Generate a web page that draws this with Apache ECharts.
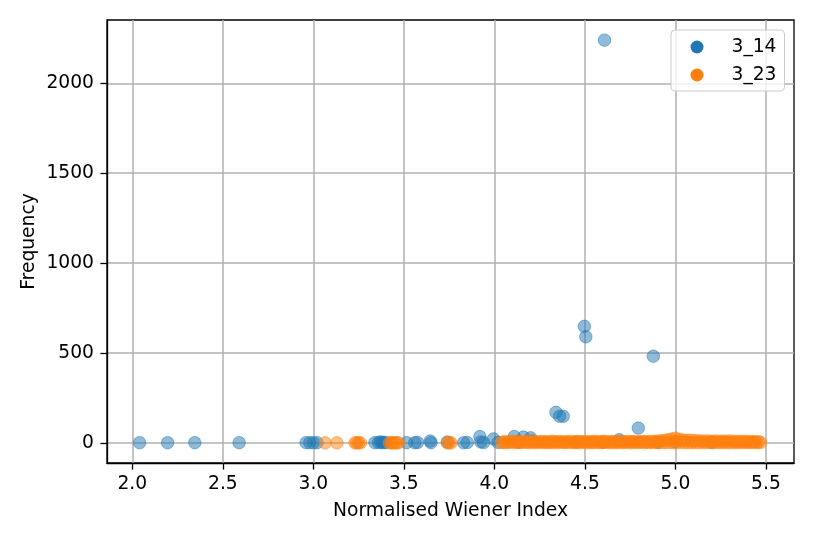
<!DOCTYPE html>
<html><head><meta charset="utf-8">
<script src="https://cdn.jsdelivr.net/npm/echarts@6/dist/echarts.min.js"></script>
<style>html,body{margin:0;padding:0;background:#fff}#c{width:814px;height:543px}</style>
</head><body><div id="c"></div>
<script>
const seriesNames = ["3_14", "3_23"];
const xTicks = [2.0, 2.5, 3.0, 3.5, 4.0, 4.5, 5.0, 5.5];
const yTicks = [0, 500, 1000, 1500, 2000];

const blue314 = [
  [2.04,1],[2.195,1],[2.345,1],[2.59,1],
  [2.96,1],[2.98,1],[3.00,1],[3.02,1],
  [3.34,1],[3.36,2],[3.37,5],[3.38,1],[3.39,3],[3.40,1],
  [3.515,1],[3.56,1],[3.575,2],[3.645,10],[3.65,1],
  [3.74,5],[3.83,1],[3.85,2],[3.92,35],[3.925,5],[3.94,2],[3.995,22],[4.02,3],
  [4.11,35],[4.13,5],[4.16,32],[4.20,28],[4.21,10],
  [4.34,170],[4.36,148],[4.38,148],
  [4.497,648],[4.505,590],[4.608,2240],
  [4.69,18],[4.795,82],[4.878,482],
  [4.45,5],[4.6,4],[4.9,3],[5.0,6],[5.2,3]
];

const orange323 = [
  [3.065,0],[3.13,0],[3.23,0],[3.24,0],[3.25,0],[3.26,0],
  [3.42,0],[3.43,0],[3.44,0],[3.45,0],[3.46,0],[3.47,0],
  [3.74,0],[3.75,0],[3.76,0],[4.04,2],
  [4.05,2],[4.06,8],[4.07,1],[4.08,6],[4.09,3],[4.10,9],[4.11,1],[4.12,7],[4.13,2],[4.14,5],
  [4.15,1],[4.16,8],[4.17,3],[4.18,6],[4.19,1],[4.20,9],[4.21,2],[4.22,7],[4.23,1],[4.24,6],
  [4.25,3],[4.26,8],[4.27,1],[4.28,7],[4.29,2],[4.30,6],[4.31,1],[4.32,9],[4.33,2],[4.34,7],
  [4.35,1],[4.36,8],[4.37,3],[4.38,6],[4.39,1],[4.40,7],[4.41,2],[4.42,9],[4.43,1],[4.44,6],
  [4.45,2],[4.46,8],[4.47,1],[4.48,7],[4.49,3],[4.50,6],[4.51,1],[4.52,8],[4.53,2],[4.54,7],
  [4.55,1],[4.56,9],[4.57,2],[4.58,6],[4.59,1],[4.60,8],[4.61,3],[4.62,7],[4.63,1],[4.64,6],
  [4.65,2],[4.66,8],[4.67,1],[4.68,7],[4.69,2],[4.70,9],[4.71,1],[4.72,6],[4.73,3],[4.74,8],
  [4.75,1],[4.76,7],[4.77,2],[4.78,8],[4.79,1],[4.80,6],[4.81,3],[4.82,9],[4.83,1],[4.84,7],
  [4.85,2],[4.86,8],[4.87,1],[4.88,9],[4.89,3],[4.90,10],[4.91,1],[4.92,12],[4.93,2],[4.94,14],
  [4.95,2],[4.96,18],[4.97,3],[4.98,22],[4.99,1],[5.00,26],[5.01,2],[5.02,20],[5.03,3],[5.04,16],
  [5.05,1],[5.06,14],[5.07,2],[5.08,15],[5.09,1],[5.10,13],[5.11,2],[5.12,12],[5.13,1],[5.14,11],
  [5.15,2],[5.16,10],[5.17,1],[5.18,11],[5.19,2],[5.20,9],[5.21,1],[5.22,10],[5.23,3],[5.24,9],
  [5.25,1],[5.26,10],[5.27,2],[5.28,9],[5.29,1],[5.30,11],[5.31,2],[5.32,8],[5.33,1],[5.34,9],
  [5.35,2],[5.36,8],[5.37,1],[5.38,9],[5.39,2],[5.40,8],[5.41,1],[5.42,7],[5.43,2],[5.44,8],
  [5.45,1],[5.46,6],[5.47,2]
];

const FONT = 'DejaVu Sans';
const FS = 18.7;
const colors = ['#1f77b4', '#ff7f0e'];

const chart = echarts.init(document.getElementById('c'), null, {renderer: 'canvas'});
function mkSeries(name, data, color) {
  return {
    name: name, type: 'scatter', data: data, symbol: 'circle', symbolSize: 12.5,
    itemStyle: {color: color, opacity: 0.5, borderColor: color, borderWidth: 1},
    emphasis: {disabled: true}, animation: false
  };
}
chart.setOption({
  animation: false,
  textStyle: {fontFamily: FONT},
  grid: {left: 107, right: 20, top: 20, bottom: 80, show: true, borderColor: '#000', borderWidth: 1.3, backgroundColor: 'transparent'},
  legend: {
    left: 671, top: 30, orient: 'vertical',
    padding: [7, 8, 6, 19.5], itemGap: 8, itemWidth: 13, itemHeight: 13,
    backgroundColor: 'rgba(255,255,255,0.8)', borderColor: '#cccccc', borderWidth: 1, borderRadius: 4,
    textStyle: {fontFamily: FONT, fontSize: FS, color: '#000', lineHeight: 20, padding: [0, 0, 0, 23]},
    data: seriesNames.map((n, i) => ({name: n, icon: 'circle', itemStyle: {color: colors[i], opacity: 1, borderWidth: 0}})),
    z: 10
  },
  xAxis: {
    type: 'value', min: 1.86, max: 5.655,
    name: 'Normalised Wiener Index', nameLocation: 'middle', nameGap: 39, nameMoveOverlap: false,
    nameTextStyle: {fontFamily: FONT, fontSize: FS, color: '#000'},
    axisLine: {show: true, onZero: false, lineStyle: {color: '#000', width: 1.3}},
    axisTick: {show: true, customValues: xTicks, length: 6.6, inside: false, lineStyle: {color: '#000', width: 1.3}},
    axisLabel: {customValues: xTicks, margin: 12, fontFamily: FONT, fontSize: FS, color: '#000', formatter: v => Number(v).toFixed(1)},
    splitLine: {show: true, lineStyle: {color: '#b0b0b0', width: 1.5}}
  },
  yAxis: {
    type: 'value', min: -112, max: 2352,
    name: 'Frequency', nameLocation: 'middle', nameGap: 68, nameRotate: 90, nameMoveOverlap: false,
    nameTextStyle: {fontFamily: FONT, fontSize: FS, color: '#000'},
    axisLine: {show: true, onZero: false, lineStyle: {color: '#000', width: 1.3}},
    axisTick: {show: true, customValues: yTicks, length: 6.6, inside: false, lineStyle: {color: '#000', width: 1.3}},
    axisLabel: {customValues: yTicks, margin: 13, fontFamily: FONT, fontSize: FS, color: '#000', formatter: v => String(Math.round(v))},
    splitLine: {show: true, lineStyle: {color: '#b0b0b0', width: 1.5}}
  },
  series: [mkSeries(seriesNames[0], blue314, colors[0]), mkSeries(seriesNames[1], orange323, colors[1])]
});
</script></body></html>
